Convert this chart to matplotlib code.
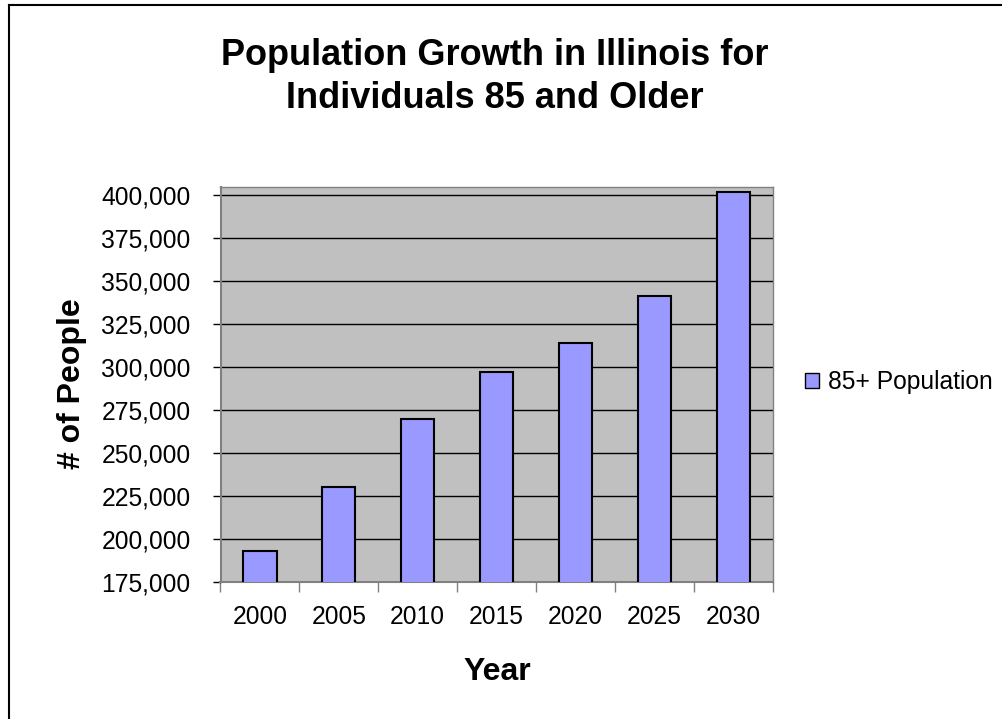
#!/usr/bin/env python3
# Population growth bar chart (Excel look)

import matplotlib
matplotlib.use('Agg')
import matplotlib.pyplot as plt
from matplotlib.ticker import FuncFormatter, MultipleLocator
from matplotlib.lines import Line2D

# Data
years = ['2000', '2005', '2010', '2015', '2020', '2025', '2030']
population = [192900, 229900, 269500, 297200, 313700, 341400, 401900]
series_name = '85+ Population'

plt.rcParams['font.family'] = ['Liberation Sans', 'DejaVu Sans']

W, H = 1002, 719
fig = plt.figure(figsize=(W / 100, H / 100), dpi=100)

# outer chart border (left and top edges visible)
fig.add_artist(Line2D([8.5 / W, 8.5 / W], [0, 1 - 5 / H], color='black', lw=1.5))
fig.add_artist(Line2D([8.5 / W, 1], [1 - 5 / H, 1 - 5 / H], color='black', lw=1.5))

ax = fig.add_axes([220.5 / W, 1 - 581.7 / H, 552.2 / W, 395 / H])
ax.set_facecolor('#C0C0C0')

x = range(len(years))
ax.bar(x, population, width=0.42, color='#9999FF', edgecolor='black',
       linewidth=1.5, zorder=3)

ax.set_xlim(-0.5, len(years) - 0.5)
ax.set_ylim(175000, 404800)
ax.yaxis.set_major_locator(MultipleLocator(25000))
ax.yaxis.set_major_formatter(FuncFormatter(lambda v, p: f"{int(v):,}"))
ax.grid(axis='y', color='black', linewidth=1, zorder=1)

# category ticks between groups, labels at centers
ax.set_xticks([i - 0.5 for i in range(len(years) + 1)])
ax.set_xticklabels([])
ax.set_xticks(list(x), minor=True)
ax.set_xticklabels(years, minor=True, fontsize=17.7)
ax.tick_params(axis='x', which='major', length=7, width=1, color='#808080')
ax.tick_params(axis='x', which='minor', length=0, pad=17)
ax.tick_params(axis='y', length=6, width=1, labelsize=17.7, pad=15.5)

for side in ['left', 'bottom']:
    ax.spines[side].set_color('#808080')
    ax.spines[side].set_linewidth(1.5)
for side in ['right', 'top']:
    ax.spines[side].set_color('#808080')
    ax.spines[side].set_linewidth(1.0)

fig.text(495 / W, 1 - 77 / H, "Population Growth in Illinois for\nIndividuals 85 and Older",
         ha='center', va='center', fontsize=26, fontweight='bold', linespacing=1.28)
fig.text(72 / W, 1 - 384 / H, "# of People", rotation=90, ha='center', va='center',
         fontsize=23, fontweight='bold')
fig.text(497 / W, 1 - 672 / H, "Year", ha='center', va='center',
         fontsize=23, fontweight='bold')

# legend
handle = plt.Rectangle((0, 0), 1, 1, facecolor='#9999FF', edgecolor='black', linewidth=1)
fig.legend([handle], [series_name], loc='center left', bbox_to_anchor=(805 / W, 1 - 382 / H),
           frameon=False, fontsize=17.7, handlelength=0.55, handleheight=0.55,
           handletextpad=0.4, borderaxespad=0, borderpad=0)

fig.savefig('out.png', dpi=100, facecolor='white')
plt.close(fig)
